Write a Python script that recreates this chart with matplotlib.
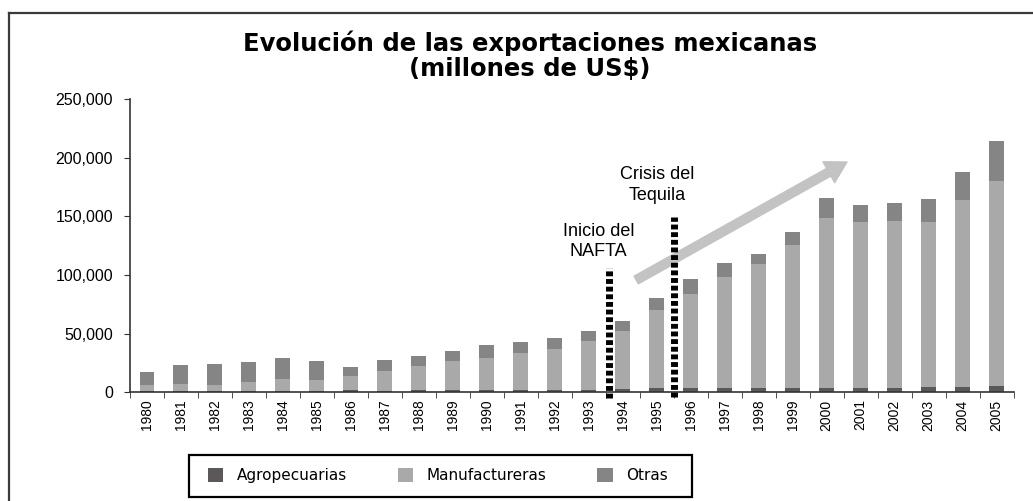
import numpy as np
import matplotlib.pyplot as plt
from matplotlib.lines import Line2D
from matplotlib.patches import Rectangle
from matplotlib.ticker import FuncFormatter

years = [str(y) for y in range(1980, 2006)]
# millones de US$
agro = [1500, 1500, 1300, 1200, 1500, 1400, 2100, 1600, 1700, 1750, 2150, 2350,
        2100, 2500, 2700, 4000, 3600, 3800, 3800, 3900, 4200, 4000, 3900, 4800, 5000, 5600]
manuf_cum = [6800, 7600, 6800, 9300, 11900, 11000, 14400, 18600, 22900, 27100, 29700, 33900,
             37300, 44000, 52500, 70300, 83900, 98300, 109300, 125400, 149000, 144900, 145800, 144900, 163600, 180500]
total = [17800, 23700, 24000, 25800, 29000, 26600, 21800, 27600, 30700, 35200, 40700, 42700,
         46300, 52500, 61000, 80500, 96600, 110000, 117800, 136400, 166000, 159300, 161000, 164400, 188000, 214400]

manuf = [m - a for m, a in zip(manuf_cum, agro)]
otras = [t - m for t, m in zip(total, manuf_cum)]

c_agro = '#5c5759'
c_manuf = '#a9a9a9'
c_otras = '#858585'

plt.rcParams['font.family'] = ['Liberation Sans', 'DejaVu Sans']

fig = plt.figure(figsize=(10.33, 5.01), dpi=100)
ax = fig.add_axes([0.1255, 0.2166, 0.8557, 0.5858])

x = np.arange(len(years))
w = 0.42
ax.bar(x, agro, w, color=c_agro, label='Agropecuarias')
ax.bar(x, manuf, w, bottom=agro, color=c_manuf, label='Manufactureras')
ax.bar(x, otras, w, bottom=manuf_cum, color=c_otras, label='Otras')

ax.set_xlim(-0.5, len(years) - 0.5)
ax.set_ylim(0, 250000)
ax.set_yticks(range(0, 250001, 50000))
ax.yaxis.set_major_formatter(FuncFormatter(lambda v, p: f'{int(v):,}'))
ax.tick_params(axis='y', labelsize=11.5, length=4, color='#333333', pad=8)

ax.set_xticks(x)
ax.set_xticklabels(years, rotation=90, fontsize=10)
ax.set_xticks(np.arange(-0.5, len(years)), minor=True)
ax.tick_params(axis='x', which='major', length=0, pad=5)
ax.tick_params(axis='x', which='minor', length=4, color='#333333')

for s in ['top', 'right']:
    ax.spines[s].set_visible(False)
for s in ['left', 'bottom']:
    ax.spines[s].set_color('#333333')
    ax.spines[s].set_linewidth(1.2)

# lineas de eventos
ax.plot([13.6, 13.6], [-4700, 106000], color='black', lw=5, ls=(0, (0.7, 0.4)),
        clip_on=False, zorder=5)
ax.plot([15.5, 15.5], [-3800, 149500], color='black', lw=5, ls=(0, (0.7, 0.4)),
        clip_on=False, zorder=5)
ax.text(13.3, 128600, 'Inicio del\nNAFTA', ha='center', va='center', fontsize=13,
        linespacing=1.3)
ax.text(15.02, 176500, 'Crisis del\nTequila', ha='center', va='center', fontsize=13,
        linespacing=1.3)

ax.annotate('', xy=(20.6, 196300), xytext=(14.4, 95800),
            arrowprops=dict(arrowstyle='simple,head_length=1.0,head_width=1.15,tail_width=0.42',
                            mutation_scale=15, color='#c3c3c3', shrinkA=0, shrinkB=0),
            zorder=4)

fig.text(0.513, 0.888, 'Evolución de las exportaciones mexicanas\n(millones de US$)',
         ha='center', va='center', fontsize=17.5, fontweight='bold',
         family='DejaVu Sans', linespacing=1.05)

# marco exterior
fig.add_artist(Line2D([0.0087, 0.0087], [0, 0.974], color='#3a3a3a', lw=1.6,
                      transform=fig.transFigure))
fig.add_artist(Line2D([0.0087, 1.0], [0.974, 0.974], color='#3a3a3a', lw=1.6,
                      transform=fig.transFigure))

# caja de la leyenda
fig.add_artist(Rectangle((189 / 1033, 4 / 501), 503 / 1033, 42 / 501, fill=False,
                         edgecolor='black', lw=1.6, transform=fig.transFigure))
leg = fig.legend(loc='center left', bbox_to_anchor=(208 / 1033, 0.05, 460 / 1033, 0.0),
                 mode='expand', ncol=3, frameon=False,
                 prop={'family': 'DejaVu Sans', 'size': 11},
                 handlelength=1.0, handleheight=1.0, handletextpad=0.9,
                 borderaxespad=0, borderpad=0)

fig.savefig('out.png', dpi=100)
